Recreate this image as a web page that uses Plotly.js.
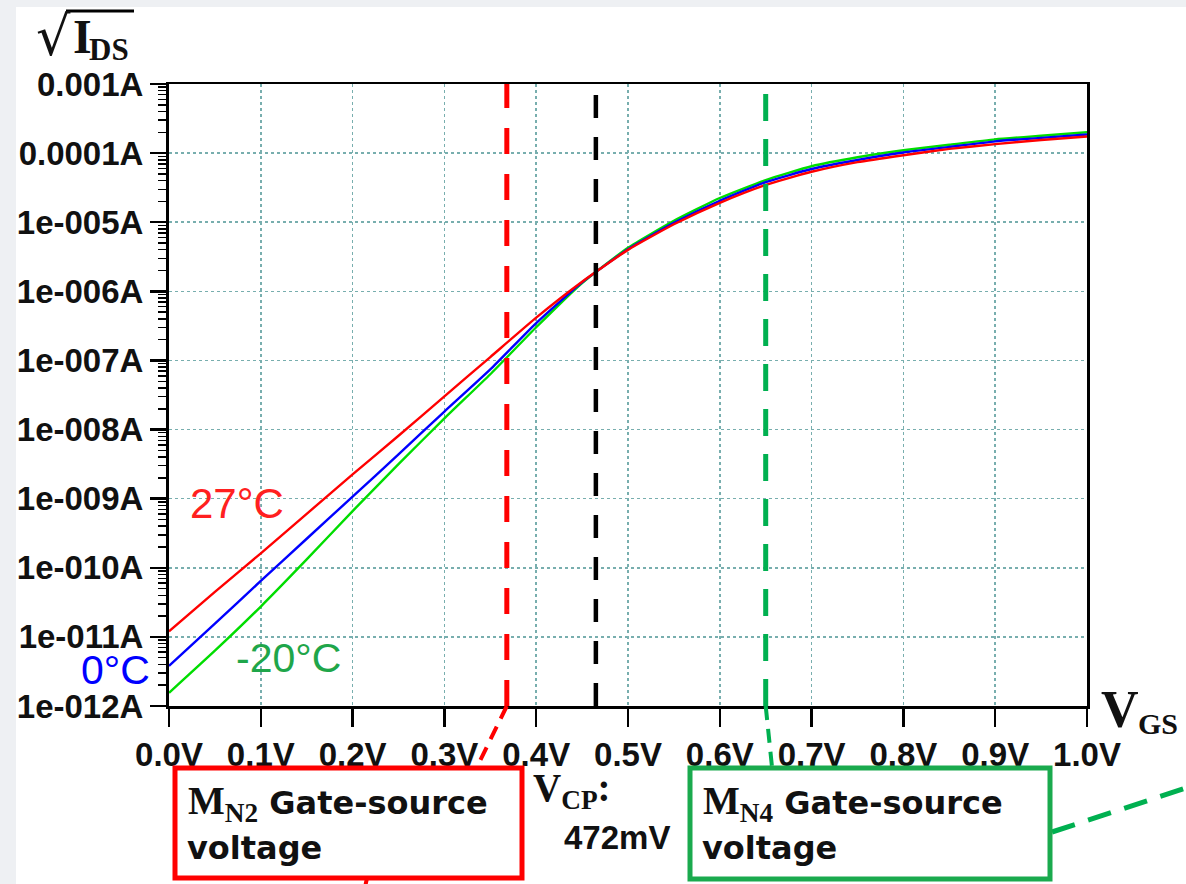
<!DOCTYPE html>
<html>
<head>
<meta charset="utf-8">
<script src="https://cdn.plot.ly/plotly-3.0.1.min.js"></script>
<style>html,body{margin:0;padding:0;background:#fff;}#chart{width:1186px;height:884px;}</style>
</head>
<body>
<div id="chart"></div>
<script>
// ---- data ----
const vgs = [0.00,0.05,0.10,0.15,0.20,0.25,0.30,0.35,0.40,0.45,0.50,0.55,0.60,0.65,0.70,0.75,0.80,0.85,0.90,0.95,1.00];
const ids27C = [1.20e-11,4.47e-11,1.62e-10,6.03e-10,2.24e-9,8.13e-9,3.02e-8,1.12e-7,4.17e-7,1.38e-6,3.98e-6,9.33e-6,1.91e-5,3.47e-5,5.37e-5,7.41e-5,9.33e-5,1.15e-4,1.35e-4,1.55e-4,1.74e-4];
const ids0C  = [3.80e-12,1.55e-11,6.46e-11,2.63e-10,1.07e-9,4.37e-9,1.82e-8,7.41e-8,3.47e-7,1.35e-6,4.07e-6,9.77e-6,2.04e-5,3.80e-5,5.89e-5,7.94e-5,1.02e-4,1.23e-4,1.48e-4,1.66e-4,1.86e-4];
const idsM20C = [1.55e-12,6.31e-12,2.75e-11,1.32e-10,6.61e-10,3.16e-9,1.45e-8,6.31e-8,3.02e-7,1.32e-6,4.27e-6,1.05e-5,2.24e-5,4.07e-5,6.46e-5,8.71e-5,1.10e-4,1.32e-4,1.58e-4,1.78e-4,2.00e-4];
const seriesNames = ['-20°C','0°C','27°C'];
const xTickVals = [0.0,0.1,0.2,0.3,0.4,0.5,0.6,0.7,0.8,0.9,1.0];
const xTickText = ['0.0V','0.1V','0.2V','0.3V','0.4V','0.5V','0.6V','0.7V','0.8V','0.9V','1.0V'];
const yTickVals = [1e-12,1e-11,1e-10,1e-9,1e-8,1e-7,1e-6,1e-5,1e-4,1e-3];
const yTickText = ['1e-012A','1e-011A','1e-010A','1e-009A','1e-008A','1e-007A','1e-006A','1e-005A','0.0001A','0.001A'];
const markerVolts = [0.368, 0.465, 0.650];   // MN2 gate-source, VCP, MN4 gate-source
const vcpLabel = '472mV';

// ---- geometry helpers (pixel -> paper) ----
const W = 1186, H = 884, ML = 169, MR = 99, MT = 84, MB = 178;
const PW = W - ML - MR, PH = H - MT - MB;
const px = p => (p - ML) / PW;
const py = p => (H - MB - p) / PH;

// minor ticks (2..9 per decade)
const minorVals = [];
for (let e = -12; e < -3; e++) for (let k = 2; k <= 9; k++) minorVals.push(k * Math.pow(10, e));

const traces = [
  {x: vgs, y: idsM20C, name: seriesNames[0], mode: 'lines', line: {color: '#00dd00', width: 2.4, shape: 'spline', smoothing: 0.5}},
  {x: vgs, y: ids0C,   name: seriesNames[1], mode: 'lines', line: {color: '#0000ff', width: 2.4, shape: 'spline', smoothing: 0.5}},
  {x: vgs, y: ids27C,  name: seriesNames[2], mode: 'lines', line: {color: '#ff0000', width: 2.4, shape: 'spline', smoothing: 0.5}}
];

const tickFont = {family: 'Liberation Sans, Arial, sans-serif', size: 33, color: '#111', weight: 700};
const gridCol = '#78aeae';

const shapes = [
  {type: 'rect', xref: 'paper', yref: 'paper', x0: px(16), x1: px(1190), y0: py(890), y1: py(7), fillcolor: '#ffffff', line: {width: 0}, layer: 'below'},
  {type: 'line', xref: 'x', yref: 'paper', x0: markerVolts[0], x1: markerVolts[0], y0: 0, y1: 1, line: {color: '#ff0000', width: 5, dash: '26px,20px'}},
  {type: 'line', xref: 'x', yref: 'paper', x0: markerVolts[1], x1: markerVolts[1], y0: 0, y1: 1, line: {color: '#000000', width: 4.5, dash: '23px,19px'}},
  {type: 'line', xref: 'x', yref: 'paper', x0: markerVolts[2], x1: markerVolts[2], y0: 0, y1: 1, line: {color: '#00b050', width: 5, dash: '27px,18px'}},
  {type: 'line', xref: 'paper', yref: 'paper', x0: markerVolts[0], y0: 0, x1: px(477), y1: py(767), line: {color: '#ff0000', width: 4, dash: '14px,9px'}},
  {type: 'line', xref: 'paper', yref: 'paper', x0: markerVolts[2], y0: 0, x1: px(772), y1: py(767), line: {color: '#00b050', width: 4, dash: '14px,9px'}},
  {type: 'line', xref: 'paper', yref: 'paper', x0: px(1052), y0: py(832), x1: px(1192), y1: py(786), line: {color: '#00b050', width: 5, dash: '24px,14px'}},
  {type: 'line', xref: 'paper', yref: 'paper', x0: px(367), y0: py(878), x1: px(364), y1: py(892), line: {color: '#ff0000', width: 4}},
  {type: 'rect', xref: 'paper', yref: 'paper', x0: px(175), x1: px(522), y0: py(878), y1: py(768), line: {color: '#ff0000', width: 5}},
  {type: 'rect', xref: 'paper', yref: 'paper', x0: px(690), x1: px(1050), y0: py(879), y1: py(768), line: {color: '#1aaa4e', width: 5}},
  {type: 'line', xref: 'paper', yref: 'paper', x0: px(66), x1: px(134), y0: py(11), y1: py(11), line: {color: '#000', width: 3}}
];

const serifB = {family: 'Liberation Serif, Times New Roman, serif', weight: 700, color: '#111'};
const ann = (text, x, y, font, xanchor, yanchor) => ({text, x: px(x), y: py(y), xref: 'paper', yref: 'paper', xanchor: xanchor || 'left', yanchor: yanchor || 'middle', showarrow: false, font, align: 'left', borderpad: 0});
const boxFont = {family: 'DejaVu Sans, sans-serif', size: 32, weight: 700, color: '#111'};

const annotations = [
  ann('27°C', 189, 503, {family: 'Liberation Sans, Arial, sans-serif', size: 42, color: '#ff2020'}),
  ann('0°C', 80, 670, {family: 'Liberation Sans, Arial, sans-serif', size: 41, color: '#0000ff'}),
  ann('-20°C', 235, 658, {family: 'Liberation Sans, Arial, sans-serif', size: 41, color: '#1fa64a'}),
  ann('√', 35, 37, {family: 'DejaVu Serif, serif', size: 54, color: '#111'}),
  ann('I', 72, 36, Object.assign({size: 48}, serifB)),
  ann('DS', 88, 49, Object.assign({size: 31}, serifB)),
  ann('V', 1100, 709, Object.assign({size: 52}, serifB)),
  ann('GS', 1137, 723, Object.assign({size: 30}, serifB)),
  ann('V<sub>CP</sub>:', 532, 790, Object.assign({size: 39}, serifB)),
  ann(vcpLabel, 563, 837, {family: 'Liberation Sans, Arial, sans-serif', size: 33, weight: 700, color: '#111'}),
  ann('<span style="font-family:Liberation Serif,serif;font-size:39px">M<sub>N2</sub></span> Gate-source', 187, 803, boxFont),
  ann('voltage', 186, 848, boxFont),
  ann('<span style="font-family:Liberation Serif,serif;font-size:39px">M<sub>N4</sub></span> Gate-source', 702, 803, boxFont),
  ann('voltage', 701, 848, boxFont)
];

const layout = {
  width: W, height: H,
  margin: {l: ML, r: MR, t: MT, b: MB, pad: 0},
  paper_bgcolor: '#eef0f3', plot_bgcolor: 'rgba(0,0,0,0)',
  showlegend: false,
  xaxis: {
    range: [0, 1], tickmode: 'array', tickvals: xTickVals, ticktext: xTickText,
    ticks: 'outside', ticklen: 18, tickwidth: 2.5, tickcolor: '#000',
    showline: true, linewidth: 2.5, linecolor: '#000', mirror: true,
    showgrid: true, gridcolor: gridCol, griddash: 'dot', gridwidth: 1.6, zeroline: false,
    tickfont: tickFont
  },
  yaxis: {
    type: 'log', range: [-12, -3], tickmode: 'array', tickvals: yTickVals, ticktext: yTickText,
    ticks: 'outside', ticklen: 16, tickwidth: 2.5, tickcolor: '#000',
    minor: {tickmode: 'array', tickvals: minorVals, ticks: 'outside', ticklen: 8, tickwidth: 1.5, tickcolor: '#000', showgrid: false},
    showline: true, linewidth: 3, linecolor: '#000', mirror: true,
    showgrid: true, gridcolor: gridCol, griddash: 'dot', gridwidth: 1.6, zeroline: false,
    tickfont: tickFont
  },
  shapes, annotations
};

Plotly.newPlot('chart', traces, layout, {staticPlot: true, displayModeBar: false});
</script>
</body>
</html>
